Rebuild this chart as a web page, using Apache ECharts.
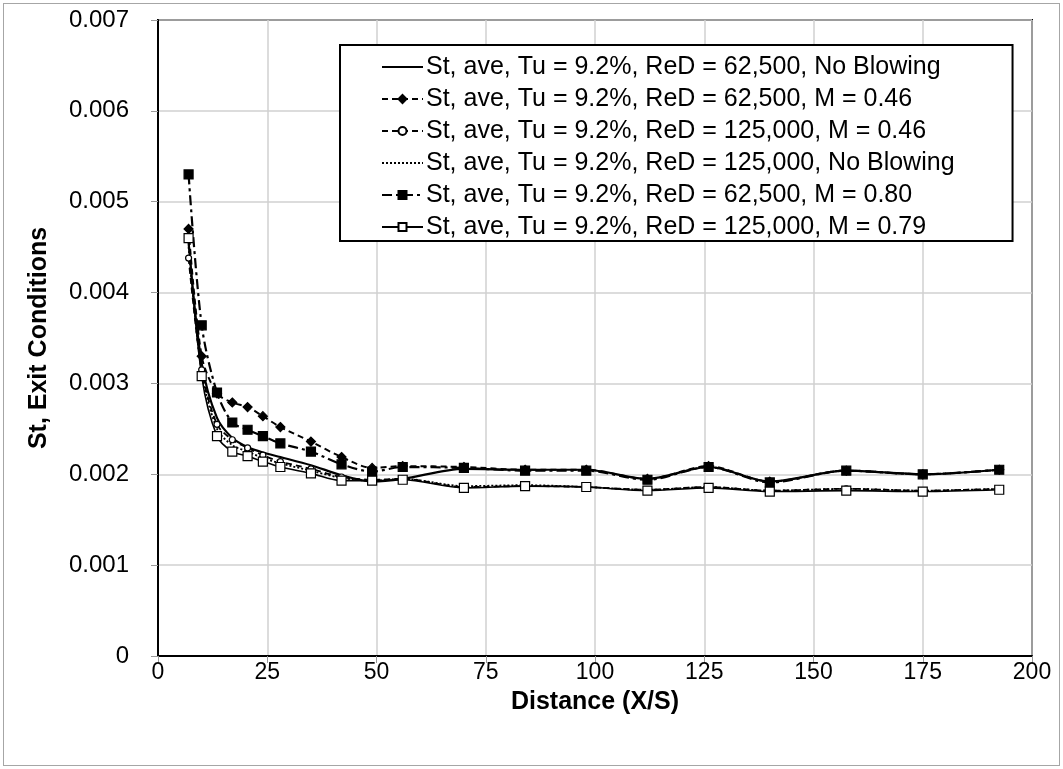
<!DOCTYPE html>
<html>
<head>
<meta charset="utf-8">
<script src="https://cdn.jsdelivr.net/npm/echarts@6/dist/echarts.min.js"></script>
<style>
html,body{margin:0;padding:0;background:#fff;}
#frame{position:absolute;left:3px;top:3px;width:1055px;height:761px;border:1px solid #a6a6a6;}
#chart{position:absolute;left:0;top:0;width:1063px;height:769px;}
</style>
</head>
<body>
<div id="frame"></div>
<div id="chart"></div>
<script>
const xValues = [7, 10, 13.5, 17, 20.5, 24, 28, 35, 42, 49, 56, 70, 84, 98, 112, 126, 140, 157.5, 175, 192.5];

const s1Name = 'St, ave, Tu = 9.2%, ReD = 62,500, No Blowing';
const s1 = [0.00455, 0.00322, 0.00262, 0.00240, 0.00230, 0.00224, 0.00219, 0.00210, 0.00199, 0.00192, 0.00195, 0.00206, 0.00205, 0.00205, 0.00195, 0.00208, 0.00192, 0.00204, 0.00200, 0.00205];

const s2Name = 'St, ave, Tu = 9.2%, ReD = 62,500, M = 0.46';
const s2 = [0.00470, 0.00330, 0.00289, 0.00279, 0.00274, 0.00264, 0.00252, 0.00236, 0.00219, 0.00207, 0.00209, 0.00208, 0.00205, 0.00205, 0.00195, 0.00209, 0.00192, 0.00204, 0.00200, 0.00205];

const s3Name = 'St, ave, Tu = 9.2%, ReD = 125,000, M = 0.46';
const s3 = [0.00438, 0.00315, 0.00255, 0.00238, 0.00229, 0.00221, 0.00214, 0.00206, 0.00197, 0.00194, 0.00195, 0.00186, 0.00187, 0.00186, 0.00183, 0.00186, 0.00182, 0.00184, 0.00182, 0.00184];

const s4Name = 'St, ave, Tu = 9.2%, ReD = 125,000, No Blowing';
const s4 = [0.00450, 0.00312, 0.00250, 0.00232, 0.00225, 0.00218, 0.00212, 0.00204, 0.00196, 0.00193, 0.00195, 0.00187, 0.00188, 0.00186, 0.00183, 0.00186, 0.00182, 0.00184, 0.00182, 0.00184];

const s5Name = 'St, ave, Tu = 9.2%, ReD = 62,500, M = 0.80';
const s5 = [0.00530, 0.00364, 0.00290, 0.00257, 0.00249, 0.00242, 0.00234, 0.00225, 0.00211, 0.00203, 0.00208, 0.00207, 0.00204, 0.00204, 0.00194, 0.00208, 0.00191, 0.00204, 0.00200, 0.00205];

const s6Name = 'St, ave, Tu = 9.2%, ReD = 125,000, M = 0.79';
const s6 = [0.00460, 0.00308, 0.00242, 0.00225, 0.00220, 0.00214, 0.00208, 0.00201, 0.00193, 0.00193, 0.00194, 0.00185, 0.00187, 0.00186, 0.00182, 0.00185, 0.00181, 0.00182, 0.00181, 0.00183];

const xTicks = [0, 25, 50, 75, 100, 125, 150, 175, 200];
const yTicks = ['0', '0.001', '0.002', '0.003', '0.004', '0.005', '0.006', '0.007'];

function pairs(ys) { return xValues.map((x, i) => [x, ys[i]]); }

const chart = echarts.init(document.getElementById('chart'), null, {renderer: 'canvas'});
const FONT = '"Liberation Sans", Arial, sans-serif';
const NARROW = '"Liberation Sans Narrow", "Arial Narrow", "Liberation Sans", Arial, sans-serif';

function mk(name, data, lineType, width, symbol, size, fill) {
  return {
    name: name, type: 'line', data: pairs(data), smooth: 0.3,
    symbol: symbol, symbolSize: size, showSymbol: symbol !== 'none',
    lineStyle: {color: '#000', width: width, type: lineType},
    itemStyle: {color: fill, borderColor: '#000', borderWidth: 1.2},
    emphasis: {disabled: true}, animation: false
  };
}
const hiddenIcon = {color: 'rgba(0,0,0,0)', borderColor: 'rgba(0,0,0,0)', borderWidth: 0};

chart.setOption({
  animation: false,
  backgroundColor: 'transparent',
  grid: {left: 158, right: 31, top: 20, bottom: 113, show: true, borderColor: '#000', borderWidth: 2},
  legend: {
    orient: 'vertical', left: 340, top: 45,
    backgroundColor: '#fff',
    borderColor: '#000', borderWidth: 2,
    padding: [9, 58, 1, 41],
    itemWidth: 41, itemHeight: 10, itemGap: 6,
    textStyle: {fontFamily: FONT, fontSize: 25, color: '#000', lineHeight: 26, padding: [0, 0, 0, -2]},
    data: [
      {name: s1Name, itemStyle: hiddenIcon},
      {name: s2Name},
      {name: s3Name},
      {name: s4Name, itemStyle: hiddenIcon},
      {name: s5Name},
      {name: s6Name}
    ]
  },
  xAxis: {
    type: 'value', min: 0, max: 200, interval: 25,
    name: 'Distance (X/S)', nameLocation: 'middle', nameGap: 34,
    nameTextStyle: {fontFamily: NARROW, fontWeight: 'bold', fontSize: 25, color: '#000'},
    axisLine: {show: true, lineStyle: {color: '#000', width: 2}},
    axisTick: {show: true, length: 7, lineStyle: {color: '#999'}},
    axisLabel: {fontFamily: FONT, fontSize: 23, color: '#000', margin: 5,
      formatter: v => String(xTicks[xTicks.indexOf(v)] ?? v)},
    splitLine: {show: true, lineStyle: {color: '#d0d0d0', width: 1.5}}
  },
  yAxis: {
    type: 'value', min: 0, max: 0.007, interval: 0.001,
    name: 'St, Exit Conditions', nameLocation: 'middle', nameGap: 106, nameRotate: 90,
    nameTextStyle: {fontFamily: NARROW, fontWeight: 'bold', fontSize: 25, color: '#000'},
    axisLine: {show: true, lineStyle: {color: '#000', width: 2}},
    axisTick: {show: true, length: 7, lineStyle: {color: '#999'}},
    axisLabel: {fontFamily: FONT, fontSize: 24, color: '#000', margin: 29,
      formatter: v => yTicks[Math.round(v * 1000)]},
    splitLine: {show: true, lineStyle: {color: '#d0d0d0', width: 1.5}}
  },
  series: [
    mk(s1Name, s1, 'solid', 2.2, 'none', 0, '#000'),
    mk(s2Name, s2, [6, 4], 2, 'diamond', 9, '#000'),
    mk(s3Name, s3, [6, 4], 1.8, 'circle', 6, '#fff'),
    mk(s4Name, s4, [2, 2], 1.8, 'none', 0, '#000'),
    mk(s5Name, s5, [10, 4, 3, 4], 2.2, 'rect', 9, '#000'),
    mk(s6Name, s6, 'solid', 1.6, 'rect', 9, '#fff')
  ]
});
</script>
</body>
</html>
